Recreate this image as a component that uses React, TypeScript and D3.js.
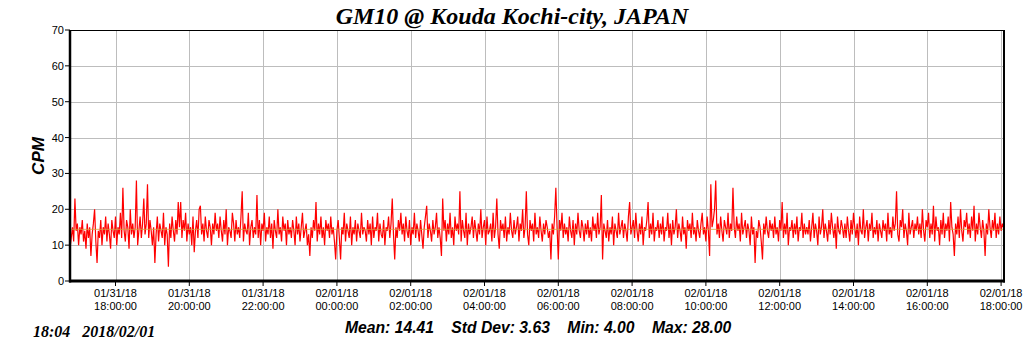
import React from "react";
import * as d3 from "d3";

const title = "GM10 @ Kouda Kochi-city, JAPAN";
const yLabel = "CPM";
const footerLeft = "18:04   2018/02/01";
const statsText = "Mean: 14.41    Std Dev: 3.63    Min: 4.00    Max: 28.00";
const meanValue = 14.41;
const yTicks = [0, 10, 20, 30, 40, 50, 60, 70];
const startTime = new Date(2018, 0, 31, 16, 46);
const endTime = new Date(2018, 1, 1, 18, 4, 43);
const stepMinutes = 2;

// CPM readings, one every 2 minutes, one row per hour from 16:46
const cpm: number[] = [
  9, 12, 15, 11, 23, 14, 16, 10, 15, 13, 17, 11, 14, 9, 16, 12, 15, 7, 13, 16, 20, 11, 5, 14, 12, 17, 10, 15, 13, 18,
  11, 16, 13, 9, 17, 14, 12, 18, 10, 15, 13, 19, 12, 26, 14, 11, 17, 15, 9, 20, 13, 16, 12, 15, 28, 10, 14, 18, 12, 16,
  23, 13, 16, 27, 12, 17, 14, 10, 15, 5, 13, 18, 11, 16, 14, 12, 19, 10, 15, 13, 4, 16, 12, 18, 14, 11, 17, 13, 22, 15,
  22, 12, 17, 14, 19, 11, 16, 13, 15, 10, 18, 8, 14, 17, 12, 20, 21, 13, 16, 11, 18, 14, 12, 17, 15, 10, 16, 13, 19, 14,
  16, 12, 18, 14, 11, 17, 13, 20, 10, 15, 14, 12, 19, 16, 11, 17, 13, 15, 12, 18, 25, 11, 16, 14, 13, 19, 10, 15, 17, 12,
  15, 13, 24, 12, 17, 10, 16, 14, 19, 11, 15, 13, 18, 12, 16, 9, 17, 14, 12, 20, 13, 15, 11, 18, 14, 16, 10, 17, 13, 15,
  12, 17, 14, 10, 18, 13, 16, 11, 15, 19, 12, 14, 16, 10, 13, 7, 15, 12, 17, 14, 22, 11, 16, 13, 18, 12, 15, 10, 17, 14,
  16, 12, 18, 13, 15, 11, 6, 14, 17, 12, 6, 15, 13, 19, 11, 16, 14, 12, 18, 10, 15, 13, 17, 11, 16, 14, 12, 19, 13, 15,
  14, 11, 17, 13, 16, 10, 18, 12, 15, 14, 19, 11, 16, 13, 12, 17, 10, 15, 14, 18, 12, 16, 23, 13, 6, 15, 12, 17, 14, 19,
  13, 16, 11, 18, 14, 12, 17, 10, 15, 13, 19, 12, 16, 14, 11, 17, 13, 9, 15, 18, 21, 12, 16, 14, 11, 17, 13, 15, 19, 12,
  15, 12, 7, 23, 14, 17, 11, 16, 13, 19, 12, 15, 10, 18, 14, 16, 13, 25, 11, 17, 14, 12, 19, 10, 16, 13, 15, 18, 12, 17,
  14, 11, 16, 13, 20, 12, 15, 17, 10, 18, 13, 14, 16, 11, 19, 12, 15, 23, 13, 9, 17, 14, 16, 12, 18, 11, 15, 13, 19, 14,
  12, 17, 13, 15, 18, 11, 16, 14, 20, 12, 15, 25, 13, 10, 17, 14, 16, 11, 19, 13, 15, 12, 18, 14, 11, 16, 13, 17, 15, 12,
  14, 6, 16, 13, 18, 26, 15, 6, 17, 14, 19, 12, 16, 13, 15, 11, 18, 14, 12, 17, 10, 16, 13, 19, 14, 12, 17, 15, 11, 16,
  13, 17, 12, 15, 11, 18, 14, 16, 12, 19, 13, 15, 24, 6, 16, 14, 12, 17, 11, 15, 13, 18, 10, 16, 14, 12, 19, 13, 15, 17,
  12, 16, 14, 11, 18, 22, 13, 15, 17, 12, 19, 14, 11, 16, 13, 18, 10, 15, 14, 17, 22, 12, 16, 13, 19, 11, 15, 14, 17, 12,
  16, 13, 18, 11, 15, 14, 19, 12, 16, 10, 17, 13, 15, 20, 12, 16, 14, 11, 18, 13, 15, 9, 17, 14, 16, 12, 19, 13, 15, 11,
  17, 14, 12, 16, 19, 13, 15, 11, 18, 14, 7, 27, 15, 17, 20, 28, 13, 16, 12, 18, 14, 11, 17, 15, 13, 19, 12, 16, 14, 26,
  15, 12, 18, 14, 16, 11, 19, 13, 15, 17, 12, 16, 14, 10, 18, 13, 15, 5, 14, 12, 17, 15, 11, 6, 16, 13, 18, 14, 12, 17,
  14, 16, 12, 18, 13, 15, 11, 17, 14, 22, 12, 16, 13, 19, 10, 15, 14, 17, 12, 16, 13, 18, 11, 15, 14, 19, 12, 16, 13, 15,
  13, 17, 11, 15, 19, 12, 16, 14, 10, 18, 13, 15, 20, 12, 16, 14, 11, 17, 13, 19, 15, 12, 16, 9, 18, 14, 13, 17, 15, 12,
  16, 12, 18, 14, 11, 17, 13, 19, 15, 12, 16, 10, 18, 14, 13, 20, 12, 15, 17, 11, 16, 14, 19, 12, 15, 13, 17, 11, 16, 14,
  12, 17, 14, 16, 11, 19, 13, 15, 12, 18, 14, 16, 25, 13, 11, 17, 15, 20, 12, 16, 14, 10, 19, 13, 15, 17, 12, 16, 14, 18,
  13, 16, 12, 20, 14, 11, 17, 15, 19, 12, 16, 13, 21, 11, 18, 14, 15, 10, 17, 13, 19, 12, 16, 14, 18, 11, 22, 15, 13, 7,
  16, 13, 18, 12, 20, 14, 11, 17, 15, 19, 13, 16, 12, 18, 14, 21, 11, 16, 13, 19, 15, 12, 17, 14, 7, 16, 13, 20, 15, 12,
  17, 14, 19, 12, 16, 13, 18, 14, 16, 15,
];

const W = 1024;
const H = 351;
const left = 70;
const right = 1004;
const top = 30;
const bottom = 281;

export default function App() {
  const x = d3.scaleTime().domain([startTime, endTime]).range([left, right]);
  const y = d3.scaleLinear().domain([0, 70]).range([bottom, top]);
  const points = cpm.map((v, i) => ({
    t: new Date(startTime.getTime() + i * stepMinutes * 60000),
    v,
  }));
  const line = d3
    .line<{ t: Date; v: number }>()
    .x((d) => x(d.t))
    .y((d) => y(d.v));
  const xTicks = x.ticks(d3.timeHour.every(2) as any);
  const fDate = d3.timeFormat("%m/%d/%y");
  const fTime = d3.timeFormat("%H:%M:%S");
  const sans = "'Liberation Sans', Arial, sans-serif";
  const serif = "'Liberation Serif', 'Times New Roman', serif";

  return (
    <svg
      width={W}
      height={H}
      style={{ position: "absolute", left: 0, top: 0, background: "#fff" }}
    >
      <rect x={0} y={0} width={W} height={H} fill="#fff" />
      <text
        x={512}
        y={24}
        textAnchor="middle"
        fontFamily={serif}
        fontWeight="bold"
        fontStyle="italic"
        fontSize={24}
        fill="#000"
      >
        {title}
      </text>
      {/* grid */}
      {yTicks.map((t) => (
        <line
          key={"gy" + t}
          x1={left}
          x2={right}
          y1={Math.round(y(t)) + 0.5}
          y2={Math.round(y(t)) + 0.5}
          stroke="#bdbdbd"
          strokeWidth={1}
        />
      ))}
      {xTicks.map((t, i) => (
        <line
          key={"gx" + i}
          x1={Math.round(x(t)) + 0.5}
          x2={Math.round(x(t)) + 0.5}
          y1={top}
          y2={bottom}
          stroke="#bdbdbd"
          strokeWidth={1}
        />
      ))}
      {/* data */}
      <path d={line(points) || ""} fill="none" stroke="#ff0000" strokeWidth={1.2} />
      <line
        x1={left}
        x2={right}
        y1={y(meanValue)}
        y2={y(meanValue)}
        stroke="#d9a040"
        strokeOpacity={0.8}
        strokeWidth={1}
      />
      {/* frame */}
      <line x1={left} x2={right} y1={top + 0.5} y2={top + 0.5} stroke="#000" strokeWidth={1} />
      <line x1={left} x2={left} y1={top} y2={bottom + 1.5} stroke="#000" strokeWidth={2.5} />
      <line x1={right} x2={right} y1={top} y2={bottom + 1.5} stroke="#000" strokeWidth={2} />
      <line x1={left - 1} x2={right + 1} y1={bottom} y2={bottom} stroke="#000" strokeWidth={3} />
      {/* y axis */}
      {yTicks.map((t) => (
        <g key={"yt" + t}>
          <line x1={left - 5} x2={left} y1={y(t)} y2={y(t)} stroke="#000" strokeWidth={1} />
          <text
            x={left - 6}
            y={y(t) + 4}
            textAnchor="end"
            fontFamily={sans}
            fontSize={11}
            fill="#000"
          >
            {t}
          </text>
        </g>
      ))}
      <text
        transform={`translate(44,${156}) rotate(-90)`}
        textAnchor="middle"
        fontFamily={sans}
        fontWeight="bold"
        fontStyle="italic"
        fontSize={17}
        fill="#000"
      >
        {yLabel}
      </text>
      {/* x axis */}
      {xTicks.map((t, i) => (
        <g key={"xt" + i}>
          <line x1={x(t)} x2={x(t)} y1={bottom} y2={bottom + 5} stroke="#000" strokeWidth={1} />
          <text x={x(t)} y={297} textAnchor="middle" fontFamily={sans} fontSize={11} fill="#000">
            {fDate(t)}
          </text>
          <text x={x(t)} y={310} textAnchor="middle" fontFamily={sans} fontSize={11} fill="#000">
            {fTime(t)}
          </text>
        </g>
      ))}
      <text
        x={33}
        y={337}
        fontFamily={serif}
        fontWeight="bold"
        fontStyle="italic"
        fontSize={16}
        fill="#000"
        style={{ whiteSpace: "pre" }}
      >
        {footerLeft}
      </text>
      <text
        x={345}
        y={333}
        fontFamily={sans}
        fontWeight="bold"
        fontStyle="italic"
        fontSize={15.7}
        fill="#000"
        style={{ whiteSpace: "pre" }}
      >
        {statsText}
      </text>
    </svg>
  );
}
